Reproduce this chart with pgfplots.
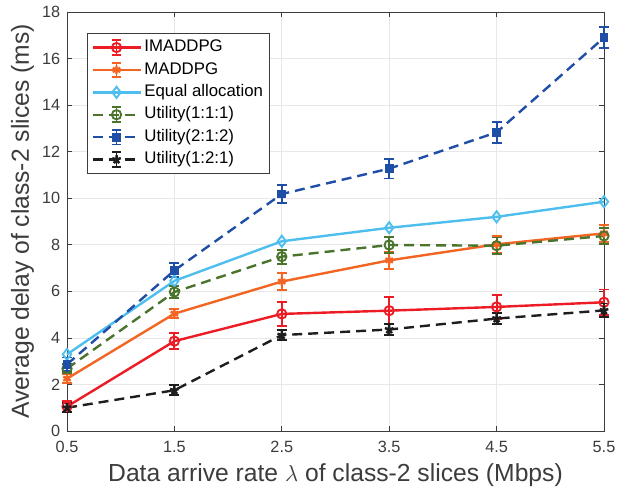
\documentclass[border=0pt]{standalone}
\usepackage{pgfplots}
\pgfplotsset{compat=1.18}
\usepackage{pgfplotstable}
\usepackage{fontspec}
\setmainfont{Liberation Sans}
\definecolor{cRed}{RGB}{237,28,36}
\definecolor{cOrange}{RGB}{242,101,34}
\definecolor{cCyan}{RGB}{77,190,238}
\definecolor{cGreen}{RGB}{74,115,44}
\definecolor{cBlue}{RGB}{31,78,166}
\definecolor{cBlack}{RGB}{30,30,30}
\definecolor{axgray}{RGB}{60,60,60}
\pgfplotsset{
  errleg/.style={legend image code/.code={
    \draw[##1, mark repeat=2, mark phase=2] plot coordinates {(0pt,0pt)(18pt,0pt)(36pt,0pt)};
    \draw[##1, solid, line width=1.4pt] (18pt,-5.5pt)--(18pt,5.5pt) (14.5pt,5.5pt)--(21.5pt,5.5pt) (14.5pt,-5.5pt)--(21.5pt,-5.5pt);
  }},
  plainleg/.style={legend image code/.code={
    \draw[##1, mark repeat=2, mark phase=2] plot coordinates {(0pt,0pt)(18pt,0pt)(36pt,0pt)};
  }},
}
\pgfplotstableread{
x y e
0.5 1.05 0.25
1.5 3.86 0.35
2.5 5.03 0.52
3.5 5.17 0.58
4.5 5.33 0.50
5.5 5.53 0.55
}\imaddpg
\pgfplotstableread{
x y e
0.5 2.25 0.20
1.5 5.04 0.20
2.5 6.42 0.38
3.5 7.33 0.36
4.5 8.02 0.36
5.5 8.49 0.36
}\maddpg
\pgfplotstableread{
x y
0.5 3.29
1.5 6.45
2.5 8.15
3.5 8.73
4.5 9.20
5.5 9.85
}\equalalloc
\pgfplotstableread{
x y e
0.5 2.68 0.20
1.5 5.97 0.25
2.5 7.49 0.30
3.5 7.99 0.35
4.5 7.96 0.35
5.5 8.38 0.35
}\utilA
\pgfplotstableread{
x y e
0.5 2.86 0.30
1.5 6.90 0.30
2.5 10.18 0.40
3.5 11.27 0.42
4.5 12.83 0.45
5.5 16.90 0.45
}\utilB
\pgfplotstableread{
x y e
0.5 1.00 0.20
1.5 1.75 0.22
2.5 4.12 0.22
3.5 4.36 0.25
4.5 4.83 0.25
5.5 5.18 0.30
}\utilC
\begin{document}
\begin{tikzpicture}
\path[use as bounding box] (-50.25pt,-43.5pt) rectangle (418.5pt,323.25pt);
\begin{axis}[
  at={(0,0)}, anchor=south west,
  scale only axis,
  width=402.75pt, height=314.25pt,
  xmin=0.5, xmax=5.5, ymin=0, ymax=18,
  xtick={0.5,1.5,2.5,3.5,4.5,5.5},
  xticklabels={0.5,1.5,2.5,3.5,4.5,5.5},
  ytick={0,2,4,6,8,10,12,14,16,18},
  /pgf/number format/assume math mode=true,
  tick label style={font=\fontsize{12.2}{14}\selectfont, text=axgray},
  xticklabel style={yshift=-4pt},
  yticklabel style={xshift=-1.5pt},
  label style={font=\fontsize{18.5}{22}\selectfont, text=axgray},
  xlabel={Data arrive rate $\lambda$ of class-2 slices (Mbps)},
  ylabel={Average delay of class-2 slices (ms)},
  xlabel style={at={(axis description cs:0.5,0)}, anchor=center, yshift=-33pt},
  ylabel style={at={(axis description cs:-0.083,0.5)}, anchor=center},
  grid=major,
  grid style={color=black!9, line width=0.5pt},
  axis line style={axgray, line width=0.6pt},
  major tick style={axgray, line width=0.5pt},
  major tick length=4pt,
  legend style={at={(axis cs:0.5,18)}, anchor=north west, xshift=15pt, yshift=-15.75pt,
    font=\fontsize{12.6}{14}\selectfont,
    draw=axgray, line width=0.5pt, inner xsep=3pt, inner ysep=2.5pt, row sep=0.5pt,
    nodes={text height=9.3pt, text depth=3pt, inner sep=2pt}},
  legend cell align=left,
  clip=false,
  every axis plot/.append style={line width=1.8pt},
  error bars/error bar style={line width=1.4pt, solid},
  error bars/error mark options={rotate=90, mark size=3.75pt, line width=1.4pt, solid},
]
\addplot+[cRed, solid, mark=o, mark size=3.5pt, mark options={solid, line width=1.4pt}, errleg,
  error bars/.cd, y dir=both, y explicit]
  table[x=x, y=y, y error=e]{\imaddpg};
\addlegendentry{IMADDPG}
\addplot+[cOrange, solid, mark=asterisk, mark size=3.2pt, mark options={solid, line width=1.8pt}, errleg,
  error bars/.cd, y dir=both, y explicit]
  table[x=x, y=y, y error=e]{\maddpg};
\addlegendentry{MADDPG}
\addplot+[cCyan, solid, mark=diamond, mark size=4.2pt, mark options={solid, line width=1.4pt}, plainleg]
  table[x=x, y=y]{\equalalloc};
\addlegendentry{Equal allocation}
\addplot+[cGreen, dashed, dash pattern=on 7.5pt off 4.5pt, mark=o, mark size=3.5pt, mark options={solid, line width=1.4pt}, errleg,
  error bars/.cd, y dir=both, y explicit]
  table[x=x, y=y, y error=e]{\utilA};
\addlegendentry{Utility(1:1:1)}
\addplot+[cBlue, dashed, dash pattern=on 7.5pt off 4.5pt, mark=square*, mark size=2.7pt, mark options={solid, line width=1.2pt}, errleg,
  error bars/.cd, y dir=both, y explicit]
  table[x=x, y=y, y error=e]{\utilB};
\addlegendentry{Utility(2:1:2)}
\addplot+[cBlack, dashed, dash pattern=on 7.5pt off 4.5pt, mark=star, mark size=3.4pt, mark options={solid, line width=1.9pt}, errleg,
  error bars/.cd, y dir=both, y explicit]
  table[x=x, y=y, y error=e]{\utilC};
\addlegendentry{Utility(1:2:1)}
\end{axis}
\end{tikzpicture}
\end{document}
